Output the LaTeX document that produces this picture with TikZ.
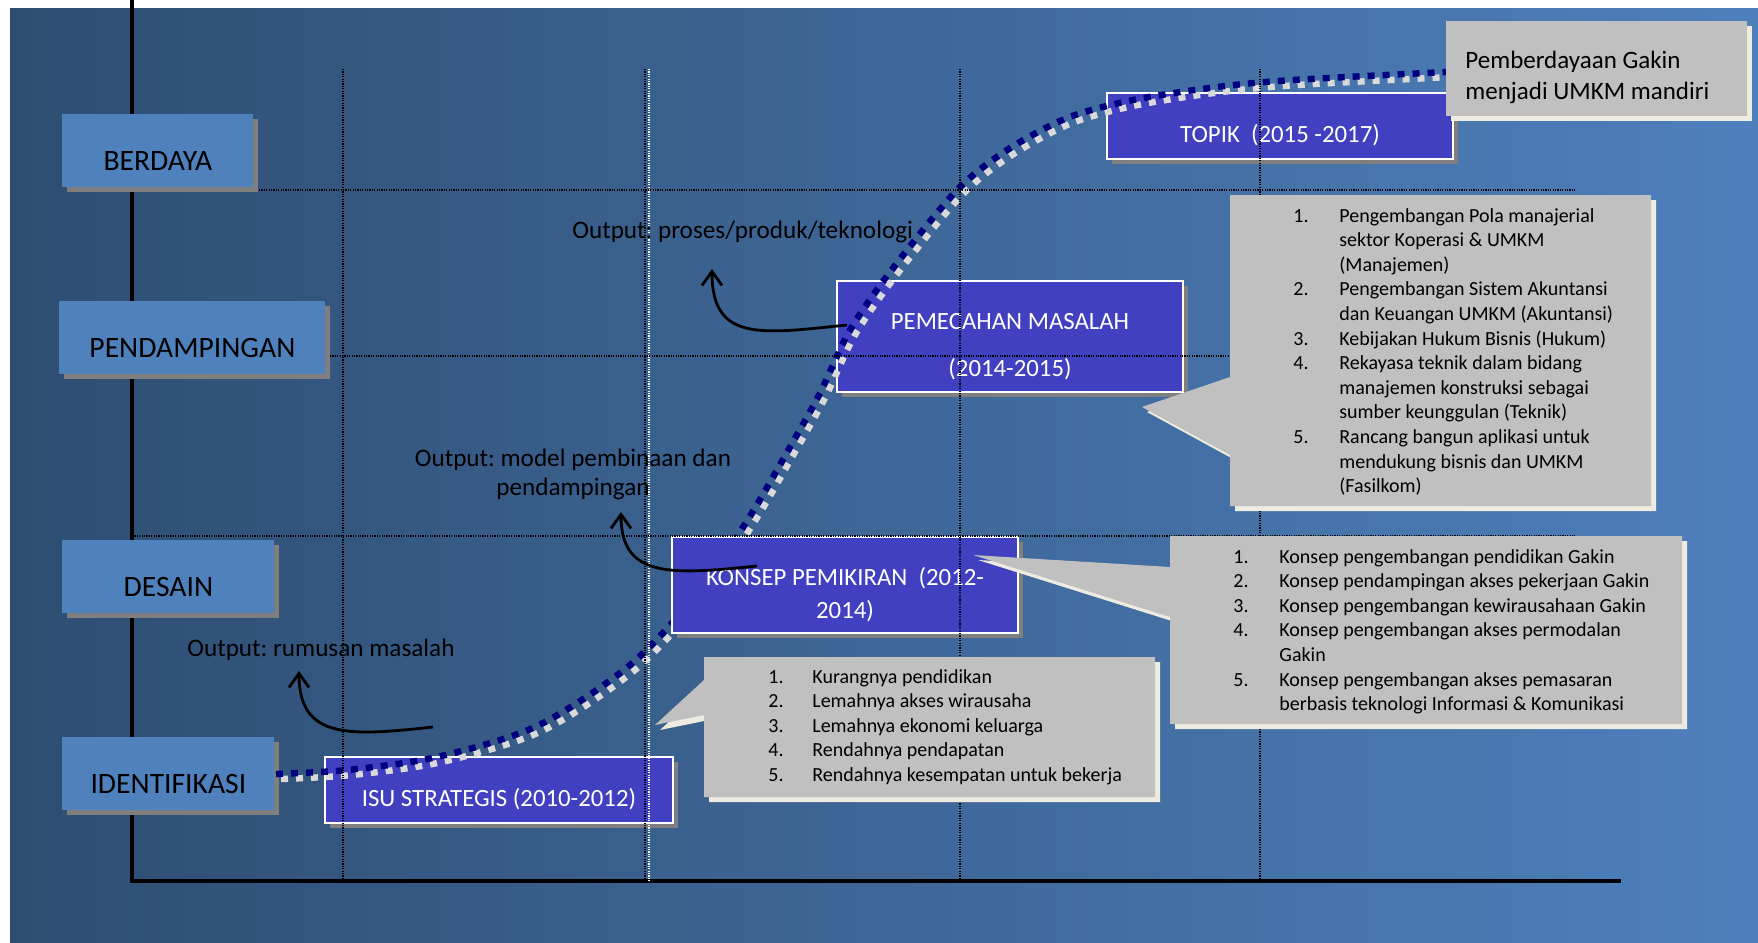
\documentclass[tikz,border=0pt]{standalone}
\usepackage{fontspec}
\setmainfont{Carlito}
\usetikzlibrary{arrows.meta,shadows}

\definecolor{bgleft}{RGB}{46,77,113}
\definecolor{bgright}{RGB}{78,128,189}
\definecolor{levelblue}{RGB}{79,129,189}
\definecolor{shadowgray}{RGB}{127,127,127}
\definecolor{periodblue}{RGB}{64,64,192}
\definecolor{calloutgray}{RGB}{192,192,192}
\definecolor{calloutcream}{RGB}{238,236,225}
\definecolor{curvenavy}{RGB}{0,0,128}
\definecolor{curvegray}{RGB}{217,217,217}

\tikzset{
  boxshadow/.style={drop shadow={shadow xshift=2.5pt, shadow yshift=-2.5pt, fill=shadowgray, draw=none, opacity=1}},
  lvlbox/.style={fill=levelblue, inner sep=0pt, anchor=north west, text height=28pt, text depth=8.5pt,
    font=\fontsize{14.8}{17}\selectfont, boxshadow},
  periodbox/.style={fill=periodblue, draw=white, line width=1pt, inner sep=0pt, anchor=north west,
    text=white, font=\fontsize{12.4}{15}\selectfont, boxshadow},
  gridline/.style={line width=0.6pt, dash pattern=on 0.6pt off 0.6pt},
  scurve/.style={line width=3.2pt, dash pattern=on 3.5pt off 4pt},
  listtext/.style={inner sep=0pt, anchor=base west, font=\fontsize{10}{12.3}\selectfont},
  outtext/.style={inner sep=0pt, font=\fontsize{12.6}{14.5}\selectfont},
  outarrow/.style={line width=1.4pt, -{Straight Barb[length=7pt, width=10pt]}}
}

\begin{document}
\frenchspacing
\begin{tikzpicture}[x=0.5pt, y=-0.5pt]
  \useasboundingbox (0,0) rectangle (1758,943);
  \shade[left color=bgleft, right color=bgright] (10,8) rectangle (1758,943);
  \draw[line width=1.8pt] (132,0) -- (132,881) -- (1621,881);

  \foreach \name/\x/\y/\w/\txt in {berdaya/62/114/95.5pt/BERDAYA, pendampingan/59/301/133pt/PENDAMPINGAN,
      desain/62/540/106pt/DESAIN, identifikasi/62/737/106pt/IDENTIFIKASI}
    \node[lvlbox, minimum width=\w] (\name) at (\x,\y) {\txt};

  \node[periodbox, minimum width=174pt, text height=24.5pt, text depth=8.5pt] (isu) at (324,756) {ISU STRATEGIS (2010-2012)};
  \node[periodbox, minimum width=173pt, text height=47.5pt, text depth=8pt] (pemecahan) at (836,280)
    {\begin{tabular}[b]{@{}c@{}}PEMECAHAN MASALAH\\[8.5pt] (2014-2015)\end{tabular}};
  \node[periodbox, minimum width=173pt, text height=24.5pt, text depth=8.5pt] (topik) at (1106,92) {TOPIK\ \ (2015 -2017)};

  \foreach \c/\s in {curvegray/5, curvenavy/0}
    \draw[scurve, \c, shift={(\s,\s)}] plot[smooth] coordinates {(276,774) (347,770) (437,757) (537,726) (630,665)
      (700,590) (750,516) (790,447) (820,393) (850,330) (893,268) (957,190) (1007,150) (1067,118) (1133,100)
      (1217,87) (1293,80) (1446,72)};

  \node[periodbox, minimum width=173pt, text height=40.5pt, text depth=7.5pt] (konsep) at (671,536)
    {\begin{tabular}[b]{@{}c@{}}KONSEP PEMIKIRAN\ \ (2012-\\[1.5pt] 2014)\end{tabular}};

  \foreach \x in {343,645,960,1260}
    \draw[gridline] (\x,69) -- (\x,881);
  \draw[gridline, white] (649,69) -- (649,881);
  \draw[gridline] (259,190) -- (1575,190);
  \draw[gridline] (330,356) -- (1575,356);
  \draw[gridline] (132,536) -- (1575,536);

  \foreach \c/\s in {calloutcream/5, calloutgray/0} {
    \begin{scope}[shift={(\s,\s)}]
      \fill[\c] (1446,21) rectangle (1747,116);
      \fill[\c] (1230,195) -- (1651,195) -- (1651,506) -- (1230,506) -- (1230,455) -- (1142,407) -- (1230,377) -- cycle;
      \fill[\c] (1170,536) -- (1682,536) -- (1682,724) -- (1170,724) -- (1170,617) -- (973,555) -- (1170,567) -- cycle;
      \fill[\c] (704,657) -- (1155,657) -- (1155,797) -- (704,797) -- (704,715) -- (655,725) -- (704,680) -- cycle;
    \end{scope}
  }

  \node[listtext, font=\fontsize{12.5}{15.5}\selectfont] (tujuan) at (1465,68)
    {\begin{tabular}[t]{@{}l@{}}Pemberdayaan Gakin\\ menjadi UMKM mandiri\end{tabular}};
  \node[listtext] (listpemecahan) at (1293,222) {\begin{tabular}[t]{@{}p{23pt}@{}l@{}}
    1. & Pengembangan Pola manajerial\\
       & sektor Koperasi \& UMKM\\
       & (Manajemen)\\
    2. & Pengembangan Sistem Akuntansi\\
       & dan Keuangan UMKM (Akuntansi)\\
    3. & Kebijakan Hukum Bisnis (Hukum)\\
    4. & Rekayasa teknik dalam bidang\\
       & manajemen konstruksi sebagai\\
       & sumber keunggulan (Teknik)\\
    5. & Rancang bangun aplikasi untuk\\
       & mendukung bisnis dan UMKM\\
       & (Fasilkom)
  \end{tabular}};
  \node[listtext] (listkonsep) at (1233,563) {\begin{tabular}[t]{@{}p{23pt}@{}l@{}}
    1. & Konsep pengembangan pendidikan Gakin\\
    2. & Konsep pendampingan akses pekerjaan Gakin\\
    3. & Konsep pengembangan kewirausahaan Gakin\\
    4. & Konsep pengembangan akses permodalan\\
       & Gakin\\
    5. & Konsep pengembangan akses pemasaran\\
       & berbasis teknologi Informasi \& Komunikasi
  \end{tabular}};
  \node[listtext] (listisu) at (768,683) {\begin{tabular}[t]{@{}p{22pt}@{}l@{}}
    1. & Kurangnya pendidikan\\
    2. & Lemahnya akses wirausaha\\
    3. & Lemahnya ekonomi keluarga\\
    4. & Rendahnya pendapatan\\
    5. & Rendahnya kesempatan untuk bekerja
  \end{tabular}};

  \node[outtext, anchor=base west] (outproses) at (572,238) {Output: proses/produk/teknologi};
  \node[outtext, anchor=base] (outmodel) at (573,466)
    {\begin{tabular}[t]{@{}c@{}}Output: model pembinaan dan\\ pendampingan\end{tabular}};
  \node[outtext, anchor=base west] (outrumusan) at (187,656) {Output: rumusan masalah};

  \coordinate (fromproses) at (847,325);
  \coordinate (toproses) at (712,269);
  \coordinate (frommodel) at (757,566);
  \coordinate (tomodel) at (621,512);
  \coordinate (fromrumusan) at (433,727);
  \coordinate (torumusan) at (299,671);
  \draw[outarrow] (fromproses) .. controls (760,334) and (712,342) .. (toproses);
  \draw[outarrow] (frommodel) .. controls (670,575) and (621,578) .. (tomodel);
  \draw[outarrow] (fromrumusan) .. controls (350,736) and (299,740) .. (torumusan);
\end{tikzpicture}
\end{document}
